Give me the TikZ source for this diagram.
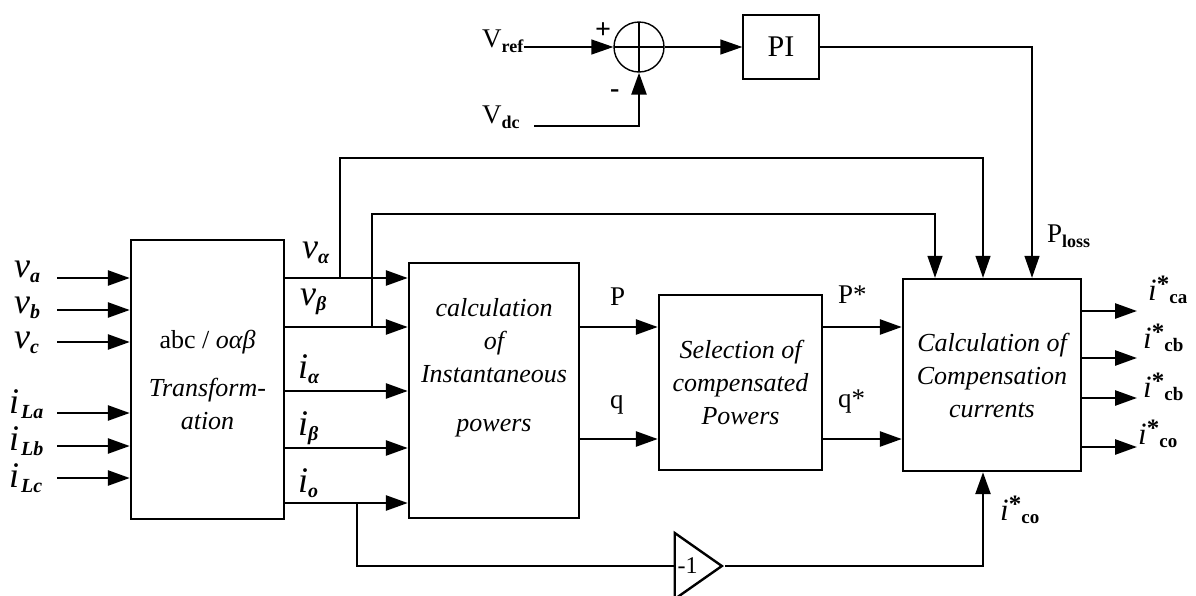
\documentclass[tikz,border=0pt]{standalone}
\usepackage{fontspec}
\setmainfont{Liberation Serif}
\usetikzlibrary{arrows.meta, positioning, shapes.geometric}

% signal names
\newcommand{\vsig}[2]{{\fontsize{36}{36}\selectfont\itshape #1}\raisebox{-5pt}{\fontsize{20}{20}\selectfont\bfseries\itshape #2}}
\newcommand{\vlab}[2]{{\fontsize{27}{27}\selectfont #1}\raisebox{-5pt}{\fontsize{18}{18}\selectfont\bfseries #2}}
\newcommand{\istar}[1]{{\fontsize{31}{31}\selectfont\itshape i}\raisebox{8pt}{\fontsize{25}{25}\selectfont\bfseries *}\raisebox{-3pt}{\fontsize{19}{19}\selectfont\bfseries #1}}

\begin{document}
\begin{tikzpicture}[
	x=1pt, y=-1pt,
	>={Triangle[length=22pt,width=15pt]},
	% Style for the blocks
	block/.style={
		draw,
		line width=2.4pt,
		align=center,
		inner sep=0pt,
		font=\fontsize{26}{33}\selectfont\itshape
	},
	% Style for the summing junction
	sum/.style={
		circle,
		draw,
		line width=1.4pt,
		minimum size=50pt,
		inner sep=0pt,
		path picture={
			\draw[line width=1.4pt] (path picture bounding box.north) -- (path picture bounding box.south)
				(path picture bounding box.west) -- (path picture bounding box.east);
		}
	},
	% Style for the gain
	gain/.style={
		isosceles triangle,
		isosceles triangle stretches,
		draw,
		line width=2.4pt,
		minimum width=66pt,
		minimum height=47pt,
		inner sep=0pt,
		font=\fontsize{24}{24}\selectfont
	},
	% Style for signal lines
	sig/.style={->, line width=2.6pt},
	fb/.style={->, line width=1.4pt},
	% Style for signal names
	lbl/.style={anchor=base west, inner sep=0pt, font=\fontsize{27}{27}\selectfont}
	]
	\useasboundingbox (0,0) rectangle (1196,595);
	
	% --- BLOCKS ---
	\node[block, minimum width=153, minimum height=279] (TR) at (207.5,379.5)
		{{\upshape abc / \itshape oαβ}\\[15pt]Transform-\\ation};
	\node[block, minimum width=170, minimum height=255] (CIP) at (494,390.5) {};
	\node[block, draw=none] (CIPtext) at (494,368)
		{calculation\\of\\Instantaneous\\[16pt]powers};
	\node[block, minimum width=163, minimum height=175] (SEL) at (740.5,382.5)
		{Selection of\\compensated\\Powers};
	\node[block, minimum width=178, minimum height=192] (CC) at (992,375)
		{Calculation of\\Compensation\\currents};
	\node[block, line width=1.4pt, minimum width=76, minimum height=64,
		font=\fontsize{30}{30}\selectfont] (PI) at (781,47) {PI};
	\node[sum] (S) at (639,47) {};
	\node[gain, anchor=apex] (G) at (725,566) {-1\kern8pt};
	
	% --- SIGNAL NAMES ---
	\node[lbl] (va) at (14,277) {\vsig{v}{a}};
	\node[lbl] (vb) at (14,313) {\vsig{v}{b}};
	\node[lbl] (vc) at (14,348) {\vsig{v}{c}};
	\node[lbl] (iLa) at (9,413) {\vsig{i}{\kern2pt La}};
	\node[lbl] (iLb) at (9,450) {\vsig{i}{\kern2pt Lb}};
	\node[lbl] (iLc) at (9,487) {\vsig{i}{\kern2pt Lc}};
	
	\node[lbl] (valpha) at (302,258) {\vsig{v}{α}};
	\node[lbl] (vbeta) at (300,305) {\vsig{v}{β}};
	\node[lbl] (ialpha) at (298,378) {\vsig{i}{α}};
	\node[lbl] (ibeta) at (298,435) {\vsig{i}{β}};
	\node[lbl] (izero) at (298,492) {\vsig{i}{o}};
	
	\node[lbl] (P) at (610,305) {P};
	\node[lbl] (q) at (610,408) {q};
	\node[lbl] (Ps) at (838,303) {P*};
	\node[lbl] (qs) at (838,407) {q*};
	
	\node[lbl] (Vref) at (482,47) {\vlab{V}{ref}};
	\node[lbl] (Vdc) at (482,123) {\vlab{V}{dc}};
	\node[lbl] (Ploss) at (1047,242) {\vlab{P}{loss}};
	\node[lbl, font=\fontsize{28}{28}\selectfont\bfseries] (plus) at (595,38) {+};
	\node[lbl, font=\fontsize{28}{28}\selectfont\bfseries] (minus) at (610,97) {-};
	
	\node[lbl] (ica) at (1148,300) {\istar{ca}};
	\node[lbl] (icb) at (1143,348) {\istar{cb}};
	\node[lbl] (icc) at (1143,397) {\istar{cb}};
	\node[lbl] (ico) at (1138,444) {\istar{co}};
	\node[lbl] (icoin) at (1000,520) {\istar{co}};
	
	% --- CONNECTORS ---
	
	% Inputs
	\foreach \nm/\yy in {a/278, b/310, c/342, La/413, Lb/446, Lc/478} {
		\coordinate (in\nm) at (57,\yy);
		\draw[sig] (in\nm) -- (in\nm -| TR.west);
	}
	
	% abc to alpha-beta outputs
	\foreach \yy in {278, 327, 391, 448, 503}
		\draw[sig] (TR.east |- 0,\yy) -- (CIP.west |- 0,\yy);
	
	% Powers
	\draw[sig] (CIP.east |- 0,327) -- (SEL.west |- 0,327);
	\draw[sig] (CIP.east |- 0,439) -- (SEL.west |- 0,439);
	\draw[sig] (SEL.east |- 0,327) -- (CC.west |- 0,327);
	\draw[sig] (SEL.east |- 0,439) -- (CC.west |- 0,439);
	
	% Compensation currents
	\foreach \nm/\yy in {ca/311, cb/358, cc/398, co/447} {
		\coordinate (out\nm) at (1137,\yy);
		\draw[sig] (CC.east |- out\nm) -- (out\nm);
	}
	
	% Voltage references to CC
	\coordinate (bva) at (340,278);
	\coordinate (bvb) at (372,327);
	\coordinate (ta) at (983,158);
	\coordinate (tb) at (935,214);
	\draw[fb] (bva) |- (ta) -- (ta |- CC.north);
	\draw[fb] (bvb) |- (tb) -- (tb |- CC.north);
	
	% DC voltage loop
	\coordinate (vdcin) at (534,126);
	\coordinate (tl) at (1032,47);
	\draw[fb] (Vref.east |- S.west) -- (S.west);
	\draw[sig] (vdcin) -| (S.south);
	\draw[fb] (S.east) -- (PI.west);
	\draw[fb] (PI.east) -- (tl) -- (tl |- CC.north);
	
	% Zero sequence current
	\coordinate (bio) at (357,503);
	\coordinate (cb) at (983,566);
	\draw[line width=2.6pt] (bio) |- (G.west);
	\draw[sig] (G.apex) -- (cb) -- (cb |- CC.south);
	
\end{tikzpicture}
\end{document}
